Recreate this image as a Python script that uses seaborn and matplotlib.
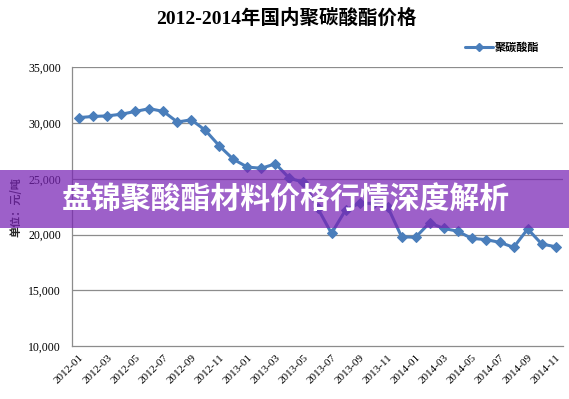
import numpy as np
import pandas as pd
import seaborn as sns
from matplotlib import pyplot as plt
from matplotlib.lines import Line2D
from matplotlib.patches import Rectangle

months = ['2012-01', '2012-02', '2012-03', '2012-04', '2012-05', '2012-06', '2012-07',
          '2012-08', '2012-09', '2012-10', '2012-11', '2012-12', '2013-01', '2013-02',
          '2013-03', '2013-04', '2013-05', '2013-06', '2013-07', '2013-08', '2013-09',
          '2013-10', '2013-11', '2013-12', '2014-01', '2014-02', '2014-03', '2014-04',
          '2014-05', '2014-06', '2014-07', '2014-08', '2014-09', '2014-10', '2014-11']
prices = [30500, 30600, 30650, 30800, 31050, 31300, 31050, 30100, 30300, 29350,
          27950, 26750, 26050, 25950, 26350, 25050, 24700, 22400, 20100, 22200,
          22800, 22800, 22500, 19800, 19750, 21050, 20550, 20300, 19650, 19550,
          19300, 18850, 20500, 19150, 18900]
series_name = '聚碳酸酯'
title = '2012-2014年国内聚碳酸酯价格'
y_label = '单位：元/吨'
y_ticks = [10000, 15000, 20000, 25000, 30000, 35000]
banner_text = '盘锦聚酸酯材料价格行情深度解析'

sns.set_style('white')
plt.rcParams['font.family'] = ['Liberation Serif', 'Noto Sans CJK SC', 'DejaVu Sans']
plt.rcParams['text.color'] = 'black'
plt.rcParams['xtick.labelcolor'] = 'black'
plt.rcParams['ytick.labelcolor'] = 'black'
cjk = ['Noto Sans CJK SC', 'DejaVu Sans']
line_color = '#4A7EBB'
grid_color = '#8C8C8C'

df = pd.DataFrame({'month': months, 'price': prices})
df['pos'] = np.arange(len(df))

fig = plt.figure(figsize=(5.69, 3.99), dpi=100)
ax = fig.add_axes([0.127, 0.133, 0.862, 0.698])

sns.lineplot(data=df, x='pos', y='price', ax=ax, color=line_color, linewidth=2.2,
             marker='D', markersize=5.5, markeredgecolor=line_color, zorder=3)

ax.set_xlim(-0.5, len(months) - 0.5)
ax.set_ylim(10000, 35000)
ax.set_yticks(y_ticks)
ax.set_yticklabels([f'{v:,}' for v in y_ticks], fontsize=8.5)
for v in y_ticks[1:]:
    ax.axhline(v, color=grid_color, linewidth=0.9, zorder=1)

ax.set_xticks(df['pos'][::2])
ax.set_xticklabels(df['month'][::2], rotation=45, ha='right', rotation_mode='anchor', fontsize=8)
ax.set_xticks(np.arange(-0.5, len(months) - 0.5, 2), minor=True)
ax.tick_params(axis='x', which='major', length=0, pad=5)
ax.tick_params(axis='x', which='minor', length=4, color=grid_color, direction='out', width=0.9)
ax.tick_params(axis='y', length=4, color=grid_color, direction='out', width=0.9, pad=4)

for s in ['top', 'right']:
    ax.spines[s].set_visible(False)
for s in ['left', 'bottom']:
    ax.spines[s].set_color(grid_color)
    ax.spines[s].set_linewidth(0.9)

ax.set_xlabel('')
ax.set_ylabel(y_label, family=cjk, fontsize=8, fontweight='bold', labelpad=4)

fig.text(0.503, 0.955, title, ha='center', va='center', fontsize=14, fontweight='bold')

handle = Line2D([], [], color=line_color, linewidth=2.2, marker='D', markersize=4.5)
fig.legend([handle], [series_name], loc='center right', bbox_to_anchor=(0.965, 0.882),
           frameon=False, prop={'family': cjk, 'size': 8, 'weight': 'bold'},
           handlelength=2.6, handletextpad=0.1)

# banner over the chart
banner = Rectangle((0, 0.4286), 1, 0.1454, transform=fig.transFigure,
                   facecolor=(120 / 255, 35 / 255, 180 / 255), alpha=0.72,
                   edgecolor='none', zorder=5)
fig.add_artist(banner)
fig.text(0.503, 0.5, banner_text, ha='center', va='center', color='white',
         family=cjk, fontsize=21.5, fontweight='heavy', zorder=6)

fig.savefig('out.png', dpi=100)
